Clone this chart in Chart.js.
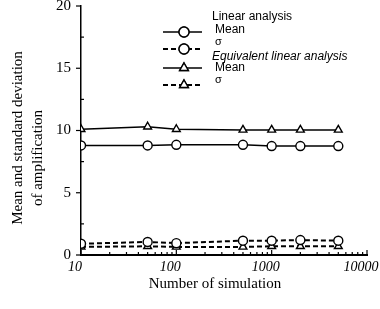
<!DOCTYPE html>
<html>
<head>
<meta charset="utf-8">
<script src="https://cdn.jsdelivr.net/npm/chart.js@4"></script>
<style>
  html, body { margin: 0; padding: 0; background: #fff; }
  #wrap { width: 380px; height: 309px; }
</style>
</head>
<body>
<div id="wrap"><canvas id="chart" width="380" height="309"></canvas></div>
<script>
// number of simulations (x, log scale)
const simulations = [10, 50, 100, 500, 1000, 2000, 5000];
// amplification statistics
const linearMean = [8.8, 8.8, 8.85, 8.85, 8.75, 8.75, 8.75];
const linearSigma = [0.9, 1.05, 0.95, 1.15, 1.15, 1.2, 1.15];
const equivMean = [10.1, 10.3, 10.1, 10.05, 10.05, 10.05, 10.05];
const equivSigma = [0.65, 0.7, 0.65, 0.65, 0.7, 0.7, 0.7];
const yTicks = [0, 5, 10, 15, 20];
const xLabels = [10, 100, 1000, 10000];

function pts(ys) {
  return simulations.map((x, i) => ({ x: x, y: ys[i] }));
}

function series(label, ys, marker, dashed) {
  return {
    label: label,
    data: pts(ys),
    borderColor: '#000',
    borderWidth: dashed ? 2 : 1.5,
    borderDash: dashed ? [5, 3] : [],
    pointStyle: marker,
    pointRadius: 4.5,
    pointBorderWidth: 1.4,
    pointBackgroundColor: '#fff',
    pointBorderColor: '#000',
    tension: 0
  };
}

// ticks, axis titles and the grouped legend
const decorations = {
  id: 'decorations',
  afterDraw(c) {
    const ctx = c.ctx;
    const xs = c.scales.x, ys = c.scales.y;
    const area = c.chartArea;
    ctx.save();
    ctx.strokeStyle = '#000';
    ctx.fillStyle = '#000';
    ctx.lineWidth = 1.2;
    // x ticks, pointing inward
    for (let d = 10; d <= 10000; d *= 10) {
      for (let m = 1; m <= 9; m++) {
        const v = d * m;
        if (v > 10000) break;
        const px = xs.getPixelForValue(v);
        const len = m === 1 ? 5 : 3;
        ctx.beginPath();
        ctx.moveTo(px, area.bottom);
        ctx.lineTo(px, area.bottom - len);
        ctx.stroke();
      }
    }
    // y ticks: major outward, minor inward
    for (let v = 0; v <= 20; v += 2.5) {
      const py = ys.getPixelForValue(v);
      ctx.beginPath();
      if (v % 5 === 0) {
        ctx.moveTo(area.left - 5, py);
        ctx.lineTo(area.left, py);
      } else {
        ctx.moveTo(area.left, py);
        ctx.lineTo(area.left + 3, py);
      }
      ctx.stroke();
    }
    // axis titles
    ctx.font = '15px "Liberation Serif"';
    ctx.textAlign = 'center';
    ctx.textBaseline = 'middle';
    ctx.fillText('Number of simulation', 215, 284);
    ctx.save();
    ctx.translate(18, 138);
    ctx.rotate(-Math.PI / 2);
    ctx.fillText('Mean and standard deviation', 0, 0);
    ctx.restore();
    ctx.save();
    ctx.translate(38, 158);
    ctx.rotate(-Math.PI / 2);
    ctx.fillText('of amplification', 0, 0);
    ctx.restore();

    // legend
    const rows = [
      { head: 'Linear analysis', italic: false, y: 17 },
      { ds: 0, text: 'Mean', y: 32, ty: 30 },
      { ds: 1, text: '\u03c3', y: 49, ty: 42 },
      { head: 'Equivalent linear analysis', italic: true, y: 57 },
      { ds: 2, text: 'Mean', y: 68, ty: 68 },
      { ds: 3, text: '\u03c3', y: 85, ty: 80 }
    ];
    ctx.textAlign = 'left';
    rows.forEach(r => {
      if (r.head) {
        ctx.font = (r.italic ? 'italic ' : '') + '12px "Liberation Sans"';
        ctx.fillText(r.head, 212, r.y);
        return;
      }
      const ds = c.data.datasets[r.ds];
      ctx.save();
      ctx.lineWidth = ds.borderWidth;
      ctx.setLineDash(ds.borderDash);
      ctx.beginPath();
      ctx.moveTo(163, r.y);
      ctx.lineTo(202, r.y);
      ctx.stroke();
      ctx.setLineDash([]);
      ctx.lineWidth = 1.4;
      ctx.fillStyle = '#fff';
      Chart.helpers.drawPoint(ctx, { pointStyle: ds.pointStyle, radius: 5, borderWidth: 1.4 }, 184, r.y);
      ctx.fill();
      ctx.stroke();
      ctx.restore();
      ctx.font = (r.text === 'Mean' ? '12px' : '11px') + ' "Liberation Sans"';
      ctx.fillText(r.text, 215, r.ty);
    });
    ctx.restore();
  }
};

new Chart(document.getElementById('chart'), {
  type: 'line',
  data: {
    datasets: [
      series('Linear analysis Mean', linearMean, 'circle', false),
      series('Linear analysis \u03c3', linearSigma, 'circle', true),
      series('Equivalent linear analysis Mean', equivMean, 'triangle', false),
      series('Equivalent linear analysis \u03c3', equivSigma, 'triangle', true)
    ]
  },
  options: {
    responsive: false,
    animation: false,
    layout: { padding: { top: 6, right: 13, left: 0, bottom: 0 } },
    plugins: { legend: { display: false }, tooltip: { enabled: false } },
    scales: {
      x: {
        type: 'logarithmic',
        min: 10,
        max: 10000,
        afterBuildTicks: s => { s.ticks = xLabels.map(v => ({ value: v })); },
        afterFit: s => { s.height = 54; s.paddingLeft = 0; s.paddingRight = 0; },
        grid: { display: false },
        border: { display: true, color: '#000', width: 2 },
        ticks: {
          color: '#000',
          padding: -4,
          labelOffset: -6,
          maxRotation: 0,
          autoSkip: false,
          font: { family: 'Liberation Serif', size: 14, style: 'italic' },
          callback: v => String(v)
        }
      },
      y: {
        min: 0,
        max: 20,
        afterBuildTicks: s => { s.ticks = yTicks.map(v => ({ value: v })); },
        afterFit: s => { s.width = 81; s.paddingTop = 0; s.paddingBottom = 0; },
        grid: { display: false },
        border: { display: true, color: '#000', width: 1.5 },
        ticks: {
          color: '#000',
          padding: 2,
          font: { family: 'Liberation Serif', size: 15 }
        }
      }
    }
  },
  plugins: [decorations]
});
</script>
</body>
</html>
